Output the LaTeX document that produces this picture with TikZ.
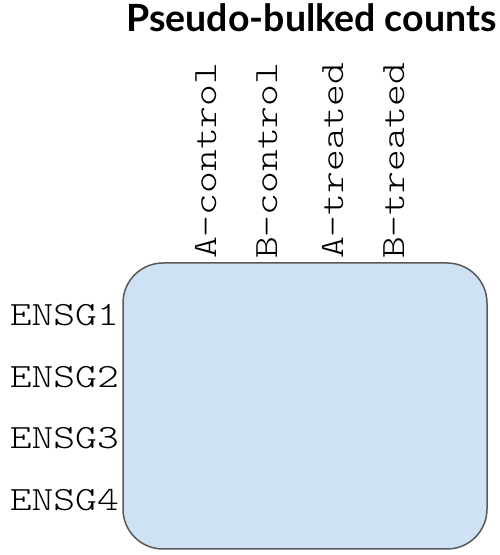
\documentclass[tikz,border=0pt]{standalone}
\usepackage{fontspec}
\setmainfont{Lato}
\newfontfamily\monof[FakeStretch=1.22]{Latin Modern Mono Light}
\newfontfamily\titlef{Lato}
\definecolor{boxfill}{HTML}{CFE2F3}
\definecolor{boxline}{HTML}{595959}
\begin{document}
\begin{tikzpicture}[x=1pt,y=1pt,
  collabel/.style={rotate=90,anchor=west,inner sep=0pt,font=\monof\fontsize{34}{34}\selectfont},
  rowlabel/.style={anchor=east,inner sep=0pt,font=\monof\fontsize{34}{34}\selectfont},
  matbox/.style={draw=boxline,line width=1.5pt,fill=boxfill,rounded corners=40pt}]
\useasboundingbox (0,0) rectangle (499,555);
\draw[matbox] (123,6) rectangle (487,292);
\node[font=\titlef\bfseries\fontsize{37.5}{37.5}\selectfont,anchor=base] (title) at (311.5,523) {Pseudo-bulked counts};
\node[collabel] (c1) at (206,296) {A-control};
\node[collabel] (c2) at (267,296) {B-control};
\node[collabel] (c3) at (333,296) {A-treated};
\node[collabel] (c4) at (394,296) {B-treated};
\node[rowlabel] (r1) at (119,240) {ENSG1};
\node[rowlabel] (r2) at (119,178) {ENSG2};
\node[rowlabel] (r3) at (119,117) {ENSG3};
\node[rowlabel] (r4) at (119,55) {ENSG4};
\end{tikzpicture}
\end{document}
